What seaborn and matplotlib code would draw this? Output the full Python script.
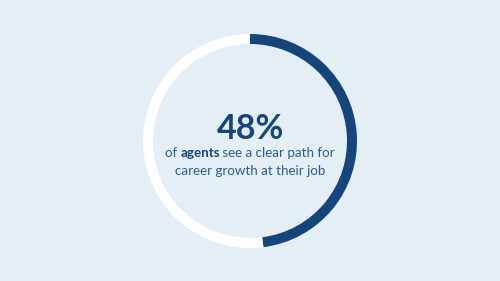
import matplotlib
matplotlib.use("Agg")
import matplotlib.pyplot as plt
import seaborn as sns

# data
labels = ["Clear path", "Other"]
values = [48, 52]
headline = "48%"
line1_parts = [("of ", "normal"), ("agents", "bold"), (" see a clear path for", "normal")]
line2 = "career growth at their job"

BG = "#e3eef5"
DARK = "#15457a"
TEXT = "#2f5c8d"

sns.set_theme(style="white")
plt.rcParams["font.family"] = ["Lato", "DejaVu Sans"]

fig = plt.figure(figsize=(5, 2.81), dpi=100)
fig.patch.set_facecolor(BG)
ax = fig.add_axes([0, 0, 1, 1])
ax.set_facecolor(BG)

ax.pie(values, colors=[DARK, "white"], startangle=90, counterclock=False,
       center=(250, 140), radius=107, wedgeprops=dict(width=10, linewidth=0),
       frame=True)
ax.set_xlim(0, 500)
ax.set_ylim(0, 281)
ax.set_aspect("equal")
ax.axis("off")

ax.text(250, 142, headline, ha="center", va="baseline", fontsize=24.5,
        fontweight="bold", color=DARK)

# line 1 with mixed weights
fig.canvas.draw()
r = fig.canvas.get_renderer()
fs = 9.6
widths = []
for s, w in line1_parts:
    t = ax.text(0, 0, s, fontsize=fs, fontweight=w)
    bb = t.get_window_extent(renderer=r)
    widths.append(bb.width - (1.5 if w == "bold" else 0))
    t.remove()
total = sum(widths)
x = 250 - total / 2
for (s, w), wd in zip(line1_parts, widths):
    ax.text(x, 124, s, fontsize=fs, fontweight=w, color=DARK if w == "bold" else TEXT,
            ha="left", va="baseline")
    x += wd
ax.text(250, 106, line2, fontsize=fs, color=TEXT, ha="center", va="baseline")

fig.savefig("out.png", dpi=100, facecolor=BG)
